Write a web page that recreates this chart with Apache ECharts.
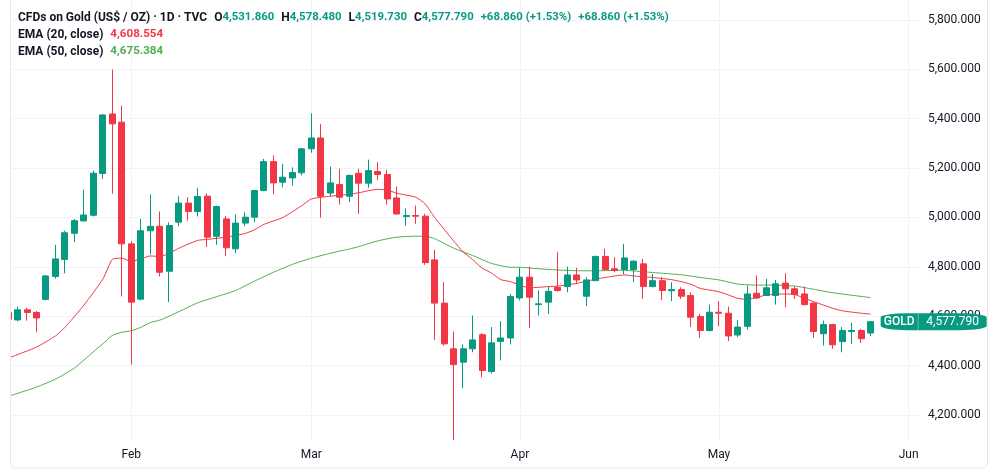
<!DOCTYPE html>
<html>
<head>
<meta charset="utf-8">
<script src="https://cdn.jsdelivr.net/npm/echarts@6/dist/echarts.min.js"></script>
<style>
html,body{margin:0;padding:0;background:#ffffff;}
#chart{width:1000px;height:474px;}
</style>
</head>
<body>
<div id="chart"></div>
<script>
// Trading dates (daily bars)
const dates = [
  '2026-01-14','2026-01-15','2026-01-16','2026-01-19','2026-01-20','2026-01-21','2026-01-22','2026-01-23','2026-01-26','2026-01-27','2026-01-28','2026-01-29','2026-01-30',
  '2026-02-02','2026-02-03','2026-02-04','2026-02-05','2026-02-06','2026-02-09','2026-02-10','2026-02-11','2026-02-12','2026-02-13','2026-02-17','2026-02-18','2026-02-19','2026-02-20','2026-02-23','2026-02-24','2026-02-25','2026-02-26','2026-02-27',
  '2026-03-02','2026-03-03','2026-03-04','2026-03-05','2026-03-06','2026-03-09','2026-03-10','2026-03-11','2026-03-12','2026-03-13','2026-03-16','2026-03-17','2026-03-18','2026-03-19','2026-03-20','2026-03-23','2026-03-24','2026-03-25','2026-03-26','2026-03-27','2026-03-30','2026-03-31',
  '2026-04-01','2026-04-02','2026-04-06','2026-04-07','2026-04-08','2026-04-09','2026-04-10','2026-04-13','2026-04-14','2026-04-15','2026-04-16','2026-04-17','2026-04-20','2026-04-21','2026-04-22','2026-04-23','2026-04-24','2026-04-27','2026-04-28','2026-04-29','2026-04-30',
  '2026-05-01','2026-05-04','2026-05-05','2026-05-06','2026-05-07','2026-05-08','2026-05-11','2026-05-12','2026-05-13','2026-05-14','2026-05-15','2026-05-18','2026-05-19','2026-05-20','2026-05-21','2026-05-22','2026-05-26',
  // future (empty) slots
  '2026-05-27','2026-05-28','2026-05-29','2026-06-01','2026-06-02'
];

// OHLC values per bar: [open, close, low, high]
const ohlc = [
  [4615,4588,4578,4625],[4585,4626,4579,4639],[4626,4615,4582,4634],[4615,4593,4535,4621],[4668,4763,4664,4767],
  [4761,4832,4752,4889],[4830,4938,4774,4947],[4936,4987,4900,4994],[4986,5010,4984,5113],[5009,5179,5004,5190],
  [5178,5415,5156,5419],[5419,5379,5096,5599],[5386,4893,4680,5453],
  [4893,4657,4404,4904],[4669,4946,4664,4994],[4946,4964,4850,5093],[4964,4778,4761,5024],[4782,4967,4657,4980],
  [4981,5058,4964,5086],[5058,5024,4987,5082],[5024,5085,5004,5120],[5086,4920,4880,5098],[4924,5044,4889,5048],
  [4994,4877,4843,5005],[4873,4977,4855,5012],[4977,5001,4964,5021],[5001,5109,4981,5112],[5109,5226,5106,5237],
  [5226,5140,5093,5251],[5143,5163,5122,5217],[5160,5182,5129,5203],[5181,5278,5170,5280],
  [5278,5322,5262,5422],[5322,5086,4999,5379],[5099,5140,5086,5206],[5133,5082,5052,5197],[5086,5170,5062,5174],
  [5179,5139,5014,5197],[5139,5190,5120,5234],[5186,5174,5152,5224],[5174,5075,5052,5193],[5079,5014,5012,5125],
  [5004,5008,4967,5037],[5008,5005,4974,5048],[5005,4817,4808,5015],[4828,4653,4504,4869],[4653,4488,4481,4738],
  [4468,4404,4099,4538],[4414,4468,4309,4486],[4468,4504,4454,4603],[4525,4380,4353,4531],[4376,4492,4367,4556],
  [4498,4512,4421,4580],[4512,4680,4486,4690],
  [4674,4758,4664,4796],[4758,4677,4553,4801],[4647,4650,4603,4704],[4657,4701,4609,4720],[4717,4704,4699,4859],
  [4720,4767,4697,4801],[4767,4747,4734,4796],[4681,4747,4641,4758],[4744,4842,4742,4846],[4842,4789,4784,4873],
  [4792,4785,4778,4839],[4789,4836,4771,4893],[4789,4823,4738,4826],[4812,4720,4670,4832],[4720,4744,4717,4771],
  [4744,4704,4666,4758],[4703,4708,4661,4738],[4708,4681,4670,4717],[4684,4596,4556,4697],[4599,4542,4512,4609],
  [4542,4616,4539,4647],
  [4616,4612,4559,4661],[4612,4520,4499,4639],[4524,4556,4515,4585],[4559,4690,4546,4724],[4693,4674,4670,4765],
  [4684,4715,4682,4751],[4684,4731,4647,4747],[4734,4711,4636,4774],[4711,4688,4670,4720],[4690,4647,4643,4720],
  [4653,4538,4512,4657],[4529,4566,4481,4582],[4566,4484,4468,4569],[4497,4542,4454,4556],[4538,4542,4488,4573],
  [4542,4508.93,4491,4549],[4531.86,4577.79,4519.73,4578.48]
];

// EMA readings: [bar index, value]
const ema20 = [
  [0,4430],[3,4475],[5,4520],[6,4555],[8,4645],[10,4750],[11,4830],[12,4835],[13,4822],[14,4832],[15,4844],[16,4842],
  [17,4855],[18,4875],[20,4907],[21,4911],[23,4920],[25,4935],[26,4950],[27,4972],[29,5000],[31,5048],[32,5075],
  [34,5086],[36,5094],[37,5100],[39,5114],[40,5111],[41,5098],[43,5082],[44,5055],[45,5000],[47,4905],[48,4861],
  [49,4830],[50,4795],[51,4775],[52,4748],[53,4740],[55,4715],[57,4720],[58,4722],[60,4733],[62,4750],[63,4757],
  [65,4767],[66,4763],[68,4757],[70,4748],[71,4740],[72,4730],[73,4713],[75,4699],[76,4686],[77,4672],[78,4668],
  [79,4676],[80,4686],[82,4690],[83,4688],[84,4672],[85,4659],[87,4632],[88,4622],[90,4612],[91,4608.554]
];
const ema50 = [
  [0,4275],[3,4313],[5,4345],[7,4390],[9,4456],[10,4488],[11,4522],[12,4535],[13,4541],[14,4555],[15,4574],[16,4584],
  [17,4600],[20,4654],[22,4679],[24,4704],[26,4742],[28,4778],[30,4810],[31,4823],[32,4835],[34,4855],[35,4864],
  [36,4872],[37,4882],[39,4905],[41,4920],[43,4924],[44,4924],[45,4914],[47,4876],[49,4846],[51,4814],[53,4798],
  [54,4798],[56,4792],[60,4784],[62,4784],[65,4786],[67,4780],[69,4774],[71,4768],[73,4757],[75,4747],[77,4730],
  [79,4726],[81,4726],[83,4722],[85,4709],[87,4695],[91,4675.384]
];

const priceTicks = [4200, 4400, 4600, 4800, 5000, 5200, 5400, 5600, 5800];
const monthNames = ['Jan','Feb','Mar','Apr','May','Jun','Jul','Aug','Sep','Oct','Nov','Dec'];
const symbolName = 'GOLD';
const titleText = 'CFDs on Gold (US$ / OZ) · 1D · TVC';

const UP = '#089981', DOWN = '#F23645', EMA20C = '#F23645', EMA50C = '#4CAF50', TXT = '#131722', GRID = '#F0F3FA';
const FONT = 'Roboto, "Noto Sans", sans-serif';

function fmt(v) {
  return Number(v).toLocaleString('en-US', {minimumFractionDigits: 3, maximumFractionDigits: 3});
}

const candleData = ohlc.map((d, i) => [i, d[0], d[1], d[2], d[3]]);
const monthIdx = [];
for (let i = 1; i < dates.length; i++) {
  if (dates[i].slice(5, 7) !== dates[i - 1].slice(5, 7)) monthIdx.push(i);
}
const last = ohlc[ohlc.length - 1];
const prev = ohlc[ohlc.length - 2];
const chg = last[1] - prev[1];
const pct = chg / prev[1] * 100;
const chgText = (chg >= 0 ? '+' : '') + fmt(chg) + ' (' + (pct >= 0 ? '+' : '') + pct.toFixed(2) + '%)';
const lastIdx = ohlc.length - 1;

const chart = echarts.init(document.getElementById('chart'), null, {renderer: 'canvas'});

const rich = {
  t: {color: TXT, fontSize: 12, fontFamily: FONT, lineHeight: 16},
  k: {color: TXT, fontSize: 12, fontFamily: FONT, lineHeight: 16},
  v: {color: UP, fontSize: 11.4, fontFamily: FONT, lineHeight: 16},
  r: {color: EMA20C, fontSize: 11.6, fontFamily: FONT, lineHeight: 16},
  g: {color: EMA50C, fontSize: 11.6, fontFamily: FONT, lineHeight: 16},
  s: {width: 7, lineHeight: 16}
};

chart.setOption({
  animation: false,
  backgroundColor: '#ffffff',
  textStyle: {fontFamily: FONT},
  title: [
    {
      left: 18, top: 9.5, padding: 0,
      text: '{t|' + titleText + '}{s|}{k|O}{v|' + fmt(last[0]) + '}{s|}{k|H}{v|' + fmt(last[3]) + '}{s|}{k|L}{v|' + fmt(last[2]) +
            '}{s|}{k|C}{v|' + fmt(last[1]) + '}{s|}{v|' + chgText + '}{s|}{v|' + chgText + '}',
      textStyle: {rich: rich}
    },
    {
      left: 18, top: 26.5, padding: 0,
      text: '{t|EMA (20, close)}{s|}{r|' + fmt(ema20[ema20.length - 1][1]) + '}',
      textStyle: {rich: rich}
    },
    {
      left: 18, top: 43.5, padding: 0,
      text: '{t|EMA (50, close)}{s|}{g|' + fmt(ema50[ema50.length - 1][1]) + '}',
      textStyle: {rich: rich}
    }
  ],
  graphic: [
    {
      type: 'rect', z: 50, silent: true,
      shape: {x: 0, y: 0, width: 10, height: 474},
      style: {fill: '#ffffff'}
    },
    {
      type: 'rect', z: 51, silent: true,
      shape: {x: 10.5, y: -6, width: 977, height: 474, r: 5},
      style: {fill: 'none', stroke: '#E6E8EE', lineWidth: 1}
    }
  ],
  grid: {left: 10, top: 0, width: 909, height: 440},
  xAxis: {
    type: 'value',
    min: 0.204,
    max: 96.1,
    axisLine: {show: false},
    axisTick: {show: false, customValues: monthIdx},
    axisLabel: {
      customValues: monthIdx,
      color: TXT, fontSize: 12, fontFamily: FONT, margin: 9,
      formatter: function (v) { return monthNames[parseInt(dates[Math.round(v)].slice(5, 7), 10) - 1]; }
    },
    splitLine: {show: true, lineStyle: {color: GRID, width: 1}}
  },
  yAxis: {
    type: 'value',
    position: 'right',
    min: 4098.6,
    max: 5880.7,
    axisLine: {show: false},
    axisTick: {show: false, customValues: priceTicks},
    axisLabel: {
      customValues: priceTicks,
      color: TXT, fontSize: 12, fontFamily: FONT, margin: 9,
      formatter: function (v) { return fmt(v); }
    },
    splitLine: {show: true, lineStyle: {color: GRID, width: 1}}
  },
  series: [
    {
      name: 'EMA50', type: 'line', data: ema50, showSymbol: false, smooth: 0.2,
      lineStyle: {color: EMA50C, width: 1}, z: 2, silent: true
    },
    {
      name: 'EMA20', type: 'line', data: ema20, showSymbol: false, smooth: 0.2,
      lineStyle: {color: EMA20C, width: 1}, z: 2, silent: true
    },
    {
      name: 'GOLD', type: 'candlestick', data: candleData, barWidth: 6.5, z: 3,
      encode: {x: 0, y: [1, 2, 3, 4]},
      itemStyle: {color: UP, color0: DOWN, borderColor: UP, borderColor0: DOWN, borderWidth: 1},
      markPoint: {
        silent: true,
        z: 10,
        data: [{
          coord: [lastIdx, last[1]],
          symbol: 'roundRect',
          symbolSize: [106, 17],
          symbolOffset: [63, 0],
          itemStyle: {color: UP},
          label: {
            show: true, position: 'inside',
            formatter: '{a|' + symbolName + '}{d|}{b|' + fmt(last[1]) + '}',
            rich: {
              a: {color: '#ffffff', fontSize: 12, fontWeight: 500, fontFamily: FONT, width: 37, align: 'center', lineHeight: 17},
              d: {width: 1, height: 17, backgroundColor: 'rgba(255,255,255,0.35)'},
              b: {color: '#ffffff', fontSize: 12, fontFamily: FONT, width: 68, align: 'center', lineHeight: 17}
            }
          }
        }]
      }
    }
  ]
});
</script>
</body>
</html>
